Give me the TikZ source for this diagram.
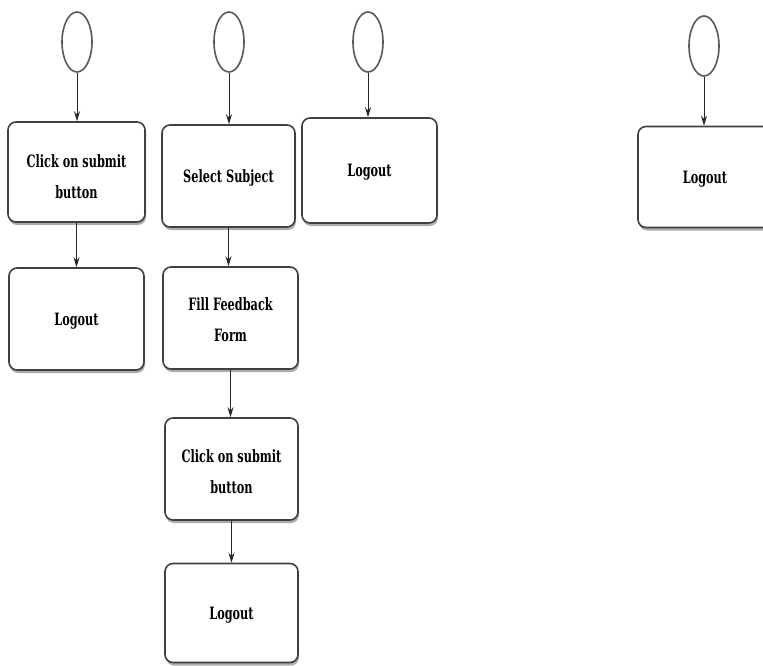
\documentclass[tikz,border=0pt]{standalone}
\usepackage{fontspec}
\newfontfamily\lblfont{DejaVu Serif}
\usetikzlibrary{shadows,arrows.meta,shapes.geometric}
\begin{document}
\begin{tikzpicture}[x=1pt,y=-1pt,
  actbox/.style={draw=black!75, line width=1.6pt, rounded corners=8pt, fill=white,
    minimum width=#1, inner sep=0pt,
    drop shadow={shadow xshift=1pt, shadow yshift=-3pt, fill=gray!65, opacity=1}},
  startnode/.style={draw=black!65, line width=1.6pt, ellipse, minimum width=30pt, minimum height=60pt, inner sep=0pt},
  flow/.style={draw=black!85, line width=1pt, -{Stealth[length=10pt,width=6pt]}},
  lowlbl/.style={label={[inner sep=0pt, yshift=-#1]center:{\vtext{\lbltext}}}}
]
\useasboundingbox (0,0) rectangle (763,666);
\newcommand{\vtext}[1]{\scalebox{1.13}[1.7]{\lblfont\bfseries\fontsize{10}{18}\selectfont\begin{tabular}{@{}c@{}}#1\end{tabular}}}

% start nodes
\node[startnode] (e1) at (77,42) {};
\node[startnode] (e2) at (229,42) {};
\node[startnode] (e3) at (368,42) {};
\node[startnode] (e4) at (704,46) {};

% column 1
\node[actbox=137pt, minimum height=100pt,
  label={[inner sep=0pt, yshift=-5pt]center:{\vtext{Click on submit\\button}}}] (a1) at (76.5,172) {};
\node[actbox=135pt, minimum height=102pt] (a2) at (76.5,319) {\vtext{Logout}};

% column 2
\node[actbox=133pt, minimum height=102pt] (b1) at (228.5,176) {\vtext{Select Subject}};
\node[actbox=135pt, minimum height=102pt,
  label={[inner sep=0pt, yshift=-2pt]center:{\vtext{Fill Feedback\\Form}}}] (b2) at (230.5,318) {};
\node[actbox=133pt, minimum height=102pt,
  label={[inner sep=0pt, yshift=-3pt]center:{\vtext{Click on submit\\button}}}] (b3) at (231.5,469) {};
\node[actbox=133pt, minimum height=99pt] (b4) at (231.5,613) {\vtext{Logout}};

% column 3
\node[actbox=135pt, minimum height=105pt] (c1) at (369.5,170.5) {\vtext{Logout}};

% column 4
\node[actbox=134pt, minimum height=101pt] (d1) at (705,177) {\vtext{Logout}};

% connectors
\draw[flow] (e1.south) -- (e1.south |- a1.north);
\draw[flow] (a1.south) -- (a1.south |- a2.north);
\draw[flow] (e2.south) -- (e2.south |- b1.north);
\draw[flow] (b1.south) -- (b1.south |- b2.north);
\draw[flow] (b2.south) -- (b2.south |- b3.north);
\draw[flow] (b3.south) -- (b3.south |- b4.north);
\draw[flow] (e3.south) -- (e3.south |- c1.north);
\draw[flow] (e4.south) -- (e4.south |- d1.north);
\end{tikzpicture}
\end{document}
